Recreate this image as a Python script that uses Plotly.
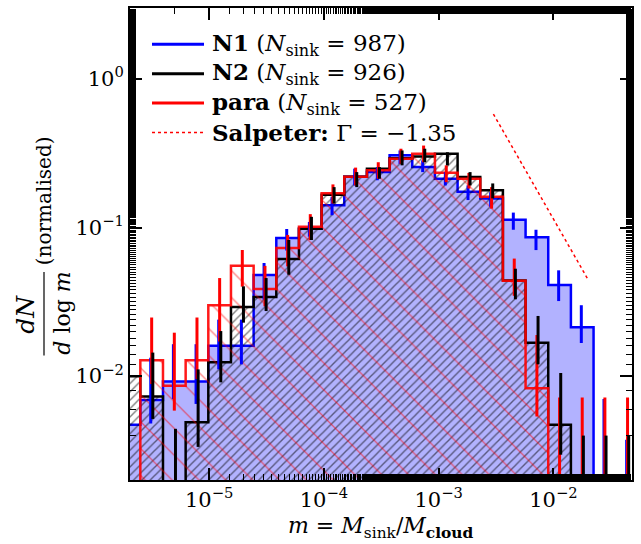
import numpy as np
import plotly.graph_objects as go

# ---------------- data ----------------
# histogram bins in log10(m): first edge and constant width
log_edge_start = -5.7975
log_bin_width = 0.1975

# N1 (blue) step heights and error-bar ends (lo, hi); None = no bar drawn
n1_vals = [0.0047, 0.0069, 0.0092, 0.0092, 0.016, 0.016, 0.048, 0.085, 0.098, 0.141, 0.22,
           0.236, 0.306, 0.255, 0.213, 0.174, 0.157, 0.113, 0.086, 0.041, 0.0213, 0.00213, 0.0]
n1_lo = [None, 0.0048, 0.0070, 0.0065, 0.0111, 0.0120, 0.0327, 0.0700, 0.0867, 0.121, 0.192,
         0.208, 0.268, 0.236, 0.192, 0.153, 0.138, 0.0966, 0.0705, 0.032, 0.0167, 0.0, 0.0]
n1_hi = [None, 0.0133, 0.0164, 0.0164, 0.0240, 0.0240, 0.0577, 0.0977, 0.109, 0.161, 0.249,
         0.255, 0.330, 0.283, 0.236, 0.192, 0.173, 0.126, 0.0966, 0.0515, 0.030, 0.00702, 0.00373]

# N2 (black)
n2_vals = [0.0100, 0.0073, 0.0, 0.0049, 0.0124, 0.0292, 0.0341, 0.0613, 0.098, 0.166, 0.22,
           0.249, 0.293, 0.30, 0.313, 0.219, 0.178, 0.044, 0.0168, 0.0047, 0.0, 0.0, 0.0]
n2_lo = [None, 0.00515, 0.0, 0.00334, 0.00908, 0.0229, 0.0274, 0.0481, 0.0824, 0.145, 0.187,
         0.213, 0.262, 0.275, 0.262, 0.192, 0.157, 0.0329, 0.0120, 0.00296, 0.0, 0.0, 0.0]
n2_hi = [None, 0.0144, 0.00442, 0.0111, 0.0201, 0.0402, 0.0457, 0.0824, 0.118, 0.187, 0.236,
         0.255, 0.330, 0.339, 0.321, 0.236, 0.198, 0.0528, 0.0254, 0.0105, 0.00398, 0.00398, 0.00398]

# para (red)
para_vals = [0.0, 0.0128, 0.0086, 0.0128, 0.030, 0.0553, 0.0386, 0.0727, 0.101, 0.170, 0.220,
             0.243, 0.29, 0.313, 0.234, 0.213, 0.161, 0.0438, 0.0083, 0.0, 0.0, 0.0, 0.0]
para_lo = [None, 0.00884, 0.00586, 0.00955, 0.0171, 0.040, 0.0295, 0.0547, 0.0824, 0.145, 0.192,
           0.213, 0.268, 0.275, 0.202, 0.183, 0.134, 0.0347, 0.00535, 0.0, 0.0, 0.0, 0.0]
para_hi = [None, 0.0248, 0.0196, 0.0248, 0.0457, 0.0706, 0.0552, 0.0891, 0.123, 0.195, 0.253,
           0.275, 0.339, 0.356, 0.262, 0.233, 0.187, 0.0618, 0.0189, 0.00718, 0.00718, 0.00718, 0.00718]

# Salpeter reference slope
salpeter_m = [0.003, 0.02]
salpeter_norm = 0.58
salpeter_gamma = -1.35

legend_labels = [
    "<b>N1</b> (<i>N</i><sub>sink</sub> = 987)",
    "<b>N2</b> (<i>N</i><sub>sink</sub> = 926)",
    "<b>para</b> (<i>N</i><sub>sink</sub> = 527)",
    "<b>Salpeter:</b> Γ = −1.35",
]
x_tick_vals = [1e-5, 1e-4, 1e-3, 1e-2]
x_tick_text = ["10<sup>−5</sup>", "10<sup>−4</sup>", "10<sup>−3</sup>", "10<sup>−2</sup>"]
y_tick_vals = [1e-2, 1e-1, 1e0]
y_tick_text = ["10<sup>−2</sup>", "10<sup>−1</sup>", "10<sup>0</sup>"]

# ---------------- layout geometry ----------------
W, H = 641, 544
ML, MR, MT, MB = 130, 9, 6, 64
PW, PH = W - ML - MR, H - MT - MB
FLOOR = 1e-4  # draw empty bins down past the bottom of the axes
FONT = "DejaVu Serif"


def px_x(px):
    return (px - ML) / PW


def px_y(py):
    return 1 - (py - MT) / PH


nb = len(n1_vals)
edges = 10 ** (log_edge_start + log_bin_width * np.arange(nb + 1))
centers_log = log_edge_start + log_bin_width * (np.arange(nb) + 0.5)


def step_path(vals):
    xs, ys = [edges[0]], [FLOOR]
    for i, v in enumerate(vals):
        v = max(v, FLOOR)
        xs += [edges[i], edges[i + 1]]
        ys += [v, v]
    xs.append(edges[-1])
    ys.append(FLOOR)
    return xs, ys


def bar_segments(lo, hi, shift):
    xs, ys = [], []
    for i in range(nb):
        if lo[i] is None:
            continue
        c = 10 ** (centers_log[i] + shift)
        xs += [c, c, None]
        ys += [max(lo[i], FLOOR), hi[i], None]
    return xs, ys


fig = go.Figure()

# N1 filled
x1, y1 = step_path(n1_vals)
fig.add_trace(go.Scatter(x=x1, y=y1, mode="lines", fill="toself",
                         fillcolor="rgba(0,0,255,0.3)",
                         line=dict(color="#0000ff", width=2.5), showlegend=False))
# N2 hatched
x2, y2 = step_path(n2_vals)
fig.add_trace(go.Scatter(x=x2, y=y2, mode="lines", fill="toself",
                         fillcolor="rgba(0,0,0,0)",
                         fillpattern=dict(shape="/", size=5.9, solidity=0.24,
                                          fgcolor="black", bgcolor="rgba(0,0,0,0)"),
                         line=dict(color="black", width=2.5), showlegend=False))
# para hatched
x3, y3 = step_path(para_vals)
fig.add_trace(go.Scatter(x=x3, y=y3, mode="lines", fill="toself",
                         fillcolor="rgba(0,0,0,0)",
                         fillpattern=dict(shape="\\", size=19, solidity=0.07,
                                          fgcolor="red", bgcolor="rgba(0,0,0,0)"),
                         line=dict(color="rgba(255,0,0,0.9)", width=2.5), showlegend=False))

# error bars
for lo, hi, col, sh in [(n1_lo, n1_hi, "#0000ff", -0.008),
                        (para_lo, para_hi, "#ff0000", 0.0),
                        (n2_lo, n2_hi, "black", 0.01)]:
    bx, by = bar_segments(lo, hi, sh)
    fig.add_trace(go.Scatter(x=bx, y=by, mode="lines",
                             line=dict(color=col, width=3), showlegend=False))

# Salpeter slope
sm = np.array(salpeter_m)
fig.add_trace(go.Scatter(x=sm, y=salpeter_norm * (sm / sm[0]) ** salpeter_gamma,
                         mode="lines", line=dict(color="red", width=1.5, dash="dot"),
                         showlegend=False))

axis_common = dict(type="log", showline=True, linecolor="black", linewidth=2,
                   mirror="allticks", ticks="inside", ticklen=12, tickwidth=1.5,
                   tickcolor="black", showgrid=False, zeroline=False,
                   tickfont=dict(family=FONT, size=21, color="black"),
                   minor=dict(ticks="inside", ticklen=6, tickwidth=1.2,
                              tickcolor="black", showgrid=False))

fig.update_layout(
    width=W, height=H,
    margin=dict(l=ML, r=MR, t=MT, b=MB),
    paper_bgcolor="white", plot_bgcolor="white",
    xaxis=dict(range=[-5.69, -1.315], tickvals=x_tick_vals, ticktext=x_tick_text,
               **axis_common),
    yaxis=dict(range=[np.log10(0.002), np.log10(3.0)], tickvals=y_tick_vals,
               ticktext=y_tick_text, **axis_common),
    showlegend=False,
)

# manual legend
leg_cols = ["#0000ff", "black", "#ff0000", "red"]
leg_dash = ["solid", "solid", "solid", "dot"]
leg_w = [3, 3, 3, 1.5]
leg_y = [42.5, 72, 101.5, 131]
for lab, col, dsh, lw, yy in zip(legend_labels, leg_cols, leg_dash, leg_w, leg_y):
    fig.add_shape(type="line", xref="paper", yref="paper",
                  x0=px_x(152), x1=px_x(204), y0=px_y(yy), y1=px_y(yy),
                  line=dict(color=col, width=lw, dash=dsh))
    fig.add_annotation(xref="paper", yref="paper", x=px_x(210), y=px_y(yy),
                       xanchor="left", yanchor="middle", showarrow=False,
                       text=lab, font=dict(family=FONT, size=23, color="black"))

# axis titles
fig.add_annotation(xref="paper", yref="paper", x=px_x(381), y=px_y(528),
                   xanchor="center", yanchor="middle", showarrow=False,
                   text="<i>m</i> = <i>M</i><sub>sink</sub>/<i>M</i><sub><b>cloud</b></sub>",
                   font=dict(family=FONT, size=22, color="black"))
fig.add_annotation(xref="paper", yref="paper", x=px_x(26), y=px_y(314),
                   xanchor="center", yanchor="middle", showarrow=False, textangle=-90,
                   text="<i>dN</i>", font=dict(family=FONT, size=25, color="black"))
fig.add_annotation(xref="paper", yref="paper", x=px_x(63), y=px_y(313),
                   xanchor="center", yanchor="middle", showarrow=False, textangle=-90,
                   text="<i>d</i> log <i>m</i>", font=dict(family=FONT, size=22, color="black"))
fig.add_shape(type="line", xref="paper", yref="paper",
              x0=px_x(44), x1=px_x(44), y0=px_y(271), y1=px_y(355),
              line=dict(color="black", width=1.2))
fig.add_annotation(xref="paper", yref="paper", x=px_x(44), y=px_y(200),
                   xanchor="center", yanchor="middle", showarrow=False, textangle=-90,
                   text="(normalised)", font=dict(family=FONT, size=20, color="black"))

fig.write_html("out.html", config={"displayModeBar": False},
               post_script="document.body.style.margin='0px';")
